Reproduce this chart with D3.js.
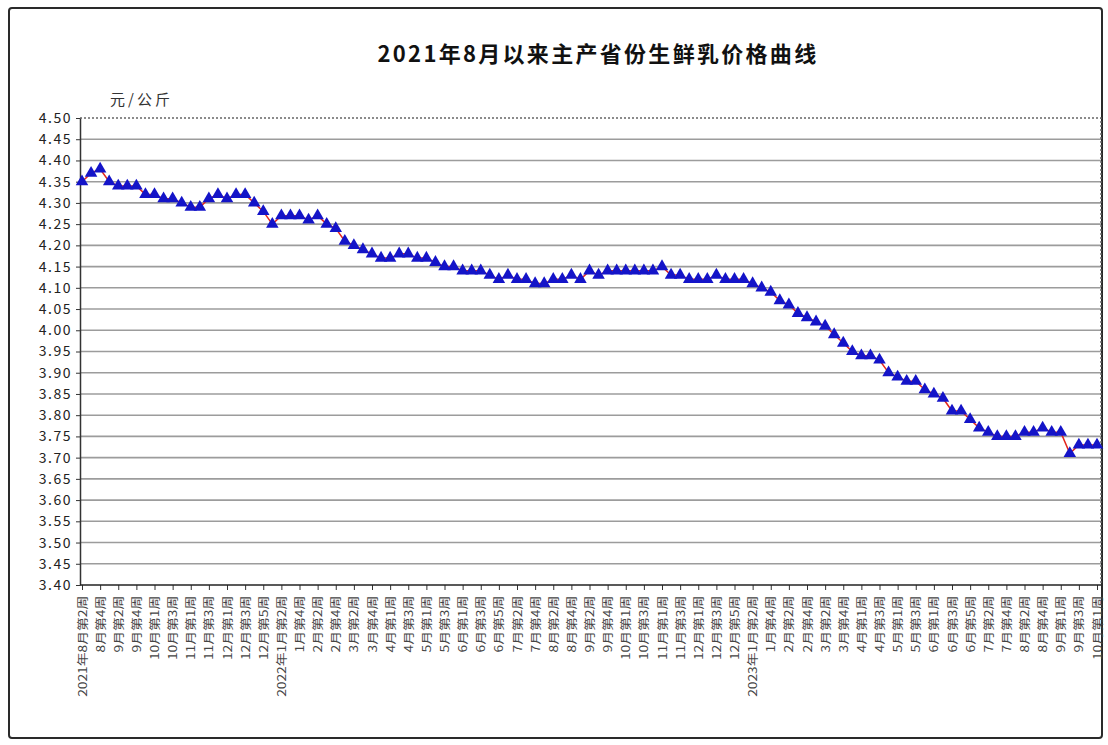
<!DOCTYPE html>
<html>
<head>
<meta charset="utf-8">
<script src="https://cdn.jsdelivr.net/npm/d3@7/dist/d3.min.js"></script>
<style>
  body { margin: 0; background: #fff; }
  #visualization { width: 1108px; height: 745px; }
  text { font-family: "Noto Sans CJK SC", "Noto Sans", sans-serif; }
</style>
</head>
<body>
<div id="visualization"></div>
<script>
const titleText = "2021年8月以来主产省份生鲜乳价格曲线"
const unitText = "元/公斤"

// weekly categories, Aug 2021 week 2 .. Oct 2023 week 1
const categories = [
  "2021年8月第2周", "8月第3周", "8月第4周", "9月第1周", "9月第2周", "9月第3周", "9月第4周", "9月第5周",
  "10月第1周", "10月第2周", "10月第3周", "10月第4周", "11月第1周", "11月第2周", "11月第3周", "11月第4周",
  "12月第1周", "12月第2周", "12月第3周", "12月第4周", "12月第5周",
  "1月第1周", "2022年1月第2周", "1月第3周", "1月第4周", "2月第1周", "2月第2周", "2月第3周", "2月第4周",
  "3月第1周", "3月第2周", "3月第3周", "3月第4周", "3月第5周", "4月第1周", "4月第2周", "4月第3周", "4月第4周",
  "5月第1周", "5月第2周", "5月第3周", "5月第4周", "6月第1周", "6月第2周", "6月第3周", "6月第4周", "6月第5周",
  "7月第1周", "7月第2周", "7月第3周", "7月第4周", "8月第1周", "8月第2周", "8月第3周", "8月第4周",
  "9月第1周", "9月第2周", "9月第3周", "9月第4周", "9月第5周", "10月第1周", "10月第2周", "10月第3周", "10月第4周",
  "11月第1周", "11月第2周", "11月第3周", "11月第4周", "12月第1周", "12月第2周", "12月第3周", "12月第4周", "12月第5周",
  "1月第1周", "2023年1月第2周", "1月第3周", "1月第4周", "2月第1周", "2月第2周", "2月第3周", "2月第4周",
  "3月第1周", "3月第2周", "3月第3周", "3月第4周", "3月第5周", "4月第1周", "4月第2周", "4月第3周", "4月第4周",
  "5月第1周", "5月第2周", "5月第3周", "5月第4周", "6月第1周", "6月第2周", "6月第3周", "6月第4周", "6月第5周",
  "7月第1周", "7月第2周", "7月第3周", "7月第4周", "8月第1周", "8月第2周", "8月第3周", "8月第4周", "8月第5周",
  "9月第1周", "9月第2周", "9月第3周", "9月第4周", "10月第1周"
]

// 元/公斤
const priceValues = [
  4.35, 4.37, 4.38, 4.35, 4.34, 4.34, 4.34, 4.32, 4.32, 4.31, 4.31, 4.30, 4.29, 4.29, 4.31, 4.32,
  4.31, 4.32, 4.32, 4.30, 4.28, 4.25, 4.27, 4.27, 4.27, 4.26, 4.27, 4.25, 4.24, 4.21, 4.20, 4.19,
  4.18, 4.17, 4.17, 4.18, 4.18, 4.17, 4.17, 4.16, 4.15, 4.15, 4.14, 4.14, 4.14, 4.13, 4.12, 4.13,
  4.12, 4.12, 4.11, 4.11, 4.12, 4.12, 4.13, 4.12, 4.14, 4.13, 4.14, 4.14, 4.14, 4.14, 4.14, 4.14,
  4.15, 4.13, 4.13, 4.12, 4.12, 4.12, 4.13, 4.12, 4.12, 4.12, 4.11, 4.10, 4.09, 4.07, 4.06, 4.04,
  4.03, 4.02, 4.01, 3.99, 3.97, 3.95, 3.94, 3.94, 3.93, 3.90, 3.89, 3.88, 3.88, 3.86, 3.85, 3.84,
  3.81, 3.81, 3.79, 3.77, 3.76, 3.75, 3.75, 3.75, 3.76, 3.76, 3.77, 3.76, 3.76, 3.71, 3.73, 3.73, 3.73
]

const yTicks = [3.40, 3.45, 3.50, 3.55, 3.60, 3.65, 3.70, 3.75, 3.80, 3.85, 3.90, 3.95,
  4.00, 4.05, 4.10, 4.15, 4.20, 4.25, 4.30, 4.35, 4.40, 4.45, 4.50]

let w = 1108,
  h = 745,
  plot = {
    left: 80,
    right: 1101,
    top: 118,
    bottom: 585
  };

let svg = d3.select("#visualization")
  .append("svg")
  .attr("width", w)
  .attr("height", h);

// outer frame
svg.append("rect")
  .attr("x", 9)
  .attr("y", 8)
  .attr("width", 1093)
  .attr("height", 730)
  .attr("rx", 3)
  .attr("fill", "#fff")
  .attr("stroke", "#2a2a2a")
  .attr("stroke-width", 2)

let x = d3.scalePoint()
  .domain(d3.range(categories.length))
  .range([plot.left + 2, plot.right - 4])

let y = d3.scaleLinear()
  .domain([3.40, 4.50])
  .range([plot.bottom, plot.top])

// gridlines
svg.append("g")
  .selectAll("line")
  .data(yTicks.filter(t => t > 3.41 && t < 4.49))
  .enter()
  .append("line")
  .attr("x1", plot.left)
  .attr("x2", plot.right)
  .attr("y1", d => y(d))
  .attr("y2", d => y(d))
  .attr("stroke", "#9c9c9c")
  .attr("stroke-width", 1.6)

// plot area top / right border (dotted)
svg.append("path")
  .attr("d", `M${plot.left},${plot.top}H${plot.right}V${plot.bottom}`)
  .attr("fill", "none")
  .attr("stroke", "#666")
  .attr("stroke-width", 1.5)
  .attr("stroke-dasharray", "2,2")

// y axis
let yAxis = svg.append("g")
  .attr("transform", `translate(${plot.left},0)`)
  .call(d3.axisLeft(y).tickValues(yTicks).tickFormat(d3.format(".2f")).tickSize(4).tickSizeOuter(0))
yAxis.select(".domain").attr("stroke", "#333").attr("stroke-width", 1.5)
yAxis.selectAll(".tick line").attr("stroke", "#333")
yAxis.selectAll(".tick text")
  .attr("x", -8)
  .style("font-size", "14px")
  .style("letter-spacing", "1.5px")
  .style("fill", "#222")

// x axis
let xAxis = svg.append("g")
  .attr("transform", `translate(0,${plot.bottom})`)
  .call(d3.axisBottom(x)
    .tickValues(d3.range(0, categories.length, 2))
    .tickFormat(i => categories[i])
    .tickSize(5)
    .tickSizeOuter(0))
xAxis.select(".domain").remove()
xAxis.selectAll(".tick line").attr("stroke", "#333")
xAxis.selectAll(".tick text")
  .attr("transform", "rotate(-90) scale(1.2,1)")
  .attr("x", -9)
  .attr("y", 0)
  .attr("dy", "0.35em")
  .style("text-anchor", "end")
  .style("font-size", "11.5px")
  .style("fill", "#444")
svg.append("line")
  .attr("x1", plot.left)
  .attr("x2", plot.right)
  .attr("y1", plot.bottom)
  .attr("y2", plot.bottom)
  .attr("stroke", "#222")
  .attr("stroke-width", 1.5)

// price line
let line = d3.line()
  .x((d, i) => x(i))
  .y(d => y(d))

svg.append("path")
  .datum(priceValues)
  .attr("d", line)
  .attr("fill", "none")
  .attr("stroke", "#e3261c")
  .attr("stroke-width", 1.5)

// triangle markers
svg.append("g")
  .selectAll("path")
  .data(priceValues)
  .enter()
  .append("path")
  .attr("d", d3.symbol(d3.symbolTriangle, 68))
  .attr("transform", (d, i) => `translate(${x(i)},${y(d)})`)
  .attr("fill", "#1414c8")

// title + unit
svg.append("text")
  .attr("x", 598)
  .attr("y", 62)
  .attr("text-anchor", "middle")
  .style("font-size", "22px")
  .style("font-weight", "bold")
  .style("letter-spacing", "2.3px")
  .style("fill", "#111")
  .text(titleText)

svg.append("text")
  .attr("x", 110)
  .attr("y", 105)
  .style("font-size", "15px")
  .style("letter-spacing", "3px")
  .style("fill", "#333")
  .text(unitText)
</script>
</body>
</html>
